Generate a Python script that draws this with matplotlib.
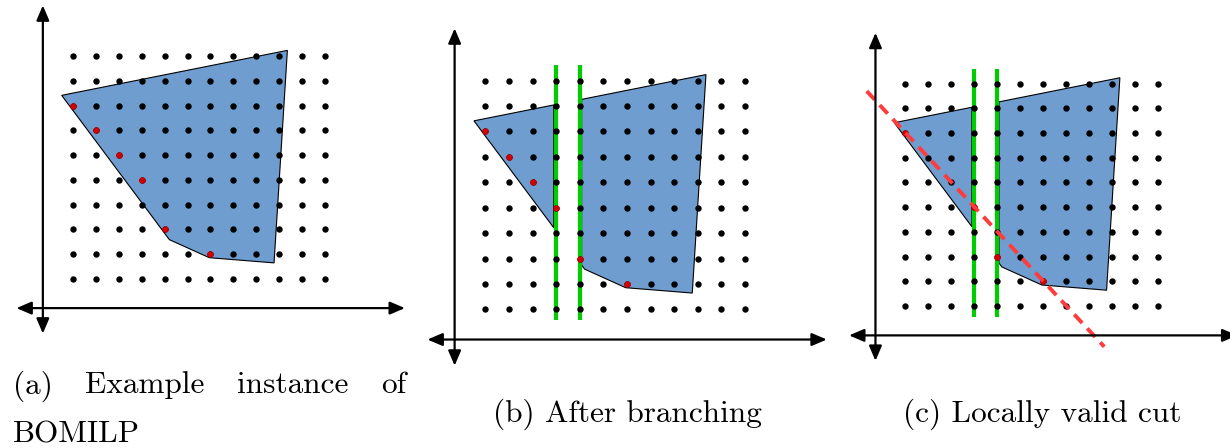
import numpy as np
import matplotlib.pyplot as plt
from matplotlib.patches import Polygon

# integer lattice
grid_x = np.arange(1, 13)
grid_y = np.arange(1, 11)

# feasible polygon (lattice units)
poly_x = [0.52, 10.35, 9.77, 6.95, 5.21]
poly_y = [8.42, 10.24, 1.64, 1.85, 2.58]

# highlighted (red) lattice points
red_x = [1, 2, 3, 4, 5, 7]
red_y = [8, 7, 6, 5, 3, 2]
red_c_x = [1, 4, 5, 7]
red_c_y = [8, 5, 3, 2]

# branching lines and removed strip
branch_x = [4, 5]
branch_y = [0.56, 10.6]
strip = (3.9, 5.08)

# locally valid cut
cut_x = [-0.68, 9.67]
cut_y = [9.70, -0.65]

# coordinate axes
axis_x = [-1.45, 15.47]
axis_y = [-1.22, 12.06]
origin = (-0.3, -0.19)

caption_a = ["(a)", "Example", "instance", "of"]
caption_a2 = "BOMILP"
captions_b = "(b) After branching"
captions_c = "(c) Locally valid cut"

W, H = 1230, 448
BLUE = '#6f9dcf'
RED = '#d00000'
GREEN = '#00cc00'
CUTRED = '#ff3b3b'


def clip_half(xs, ys, xc, keep_left):
    pts = list(zip(xs, ys))
    out = []
    n = len(pts)
    for i in range(n):
        p, q = pts[i], pts[(i + 1) % n]
        pin = p[0] <= xc if keep_left else p[0] >= xc
        qin = q[0] <= xc if keep_left else q[0] >= xc
        if pin:
            out.append(p)
        if pin != qin:
            t = (xc - p[0]) / (q[0] - p[0])
            out.append((xc, p[1] + t * (q[1] - p[1])))
    return out


def make_panel(fig, left, right, x0, dx, y0, dy):
    ax = fig.add_axes([left / W, 0, (right - left) / W, 1])
    ax.set_xlim((left - x0) / dx + 1, (right - x0) / dx + 1)
    ax.set_ylim(1 + (y0 - H) / dy, 1 + y0 / dy)
    ax.axis('off')
    return ax


def draw_axes(ax):
    arrow = dict(arrowstyle='<|-|>,head_length=0.75,head_width=0.32', lw=1.6,
                 color='black', mutation_scale=12, shrinkA=0, shrinkB=0)
    ax.annotate('', xy=(axis_x[1], origin[1]), xytext=(axis_x[0], origin[1]),
                arrowprops=arrow, annotation_clip=False, zorder=5)
    ax.annotate('', xy=(origin[0], axis_y[1]), xytext=(origin[0], axis_y[0]),
                arrowprops=arrow, annotation_clip=False, zorder=5)


def draw_dots(ax, rx, ry):
    gx, gy = np.meshgrid(grid_x, grid_y)
    ax.plot(gx.ravel(), gy.ravel(), 'o', color='black', ms=4.6, mew=0, zorder=3)
    ax.plot(rx, ry, 'o', color=RED, ms=4.6, mew=0, zorder=3.5)


def draw_branched(ax):
    for xc, keep in [(strip[0], True), (strip[1], False)]:
        piece = clip_half(poly_x, poly_y, xc, keep)
        ax.add_patch(Polygon(piece, closed=True, facecolor=BLUE,
                             edgecolor='black', lw=0.8, zorder=1))
    for bx in branch_x:
        ax.plot([bx, bx], branch_y, color=GREEN, lw=3, solid_capstyle='butt', zorder=2)


fig = plt.figure(figsize=(W / 100, H / 100), dpi=100)

# (a)
ax1 = make_panel(fig, 0, 420, 72.7, 22.96, 278.7, 24.71)
ax1.add_patch(Polygon(list(zip(poly_x, poly_y)), closed=True, facecolor=BLUE,
                      edgecolor='black', lw=0.8, zorder=1))
draw_dots(ax1, red_x, red_y)
draw_axes(ax1)

# (b)
ax2 = make_panel(fig, 420, 840, 485.3, 23.6, 309.3, 25.4)
draw_branched(ax2)
draw_dots(ax2, red_x, red_y)
draw_axes(ax2)

# (c)
ax3 = make_panel(fig, 840, 1230, 905.3, 22.95, 306.0, 24.7)
draw_branched(ax3)
draw_dots(ax3, red_c_x, red_c_y)
ax3.plot(cut_x, cut_y, color=CUTRED, lw=2.8, dashes=(3, 1.9), zorder=4)
draw_axes(ax3)

# captions
cm = dict(fontfamily='cmr10', va='baseline', color='black')
fs = 22.5

# justified first line of (a): spread words between 12.7 px and 406 px
renderer = fig.canvas.get_renderer()
words = [fig.text(0, 1 - 393.3 / H, w, fontsize=fs, ha='left', **cm) for w in caption_a]
widths = [t.get_window_extent(renderer).width for t in words]
gap = (406 - 12.7 - sum(widths)) / (len(words) - 1)
xpos = 12.7
for t, wd in zip(words, widths):
    t.set_x(xpos / W)
    xpos += wd + gap

fig.text(12.7 / W, 1 - 442.3 / H, caption_a2, fontsize=fs, ha='left', **cm)
fig.text(627.7 / W, 1 - 421.7 / H, captions_b, fontsize=fs, ha='center', **cm)
fig.text(902.7 / W, 1 - 421.7 / H, captions_c, fontsize=fs, ha='left', **cm)

fig.savefig('out.png', dpi=100)
